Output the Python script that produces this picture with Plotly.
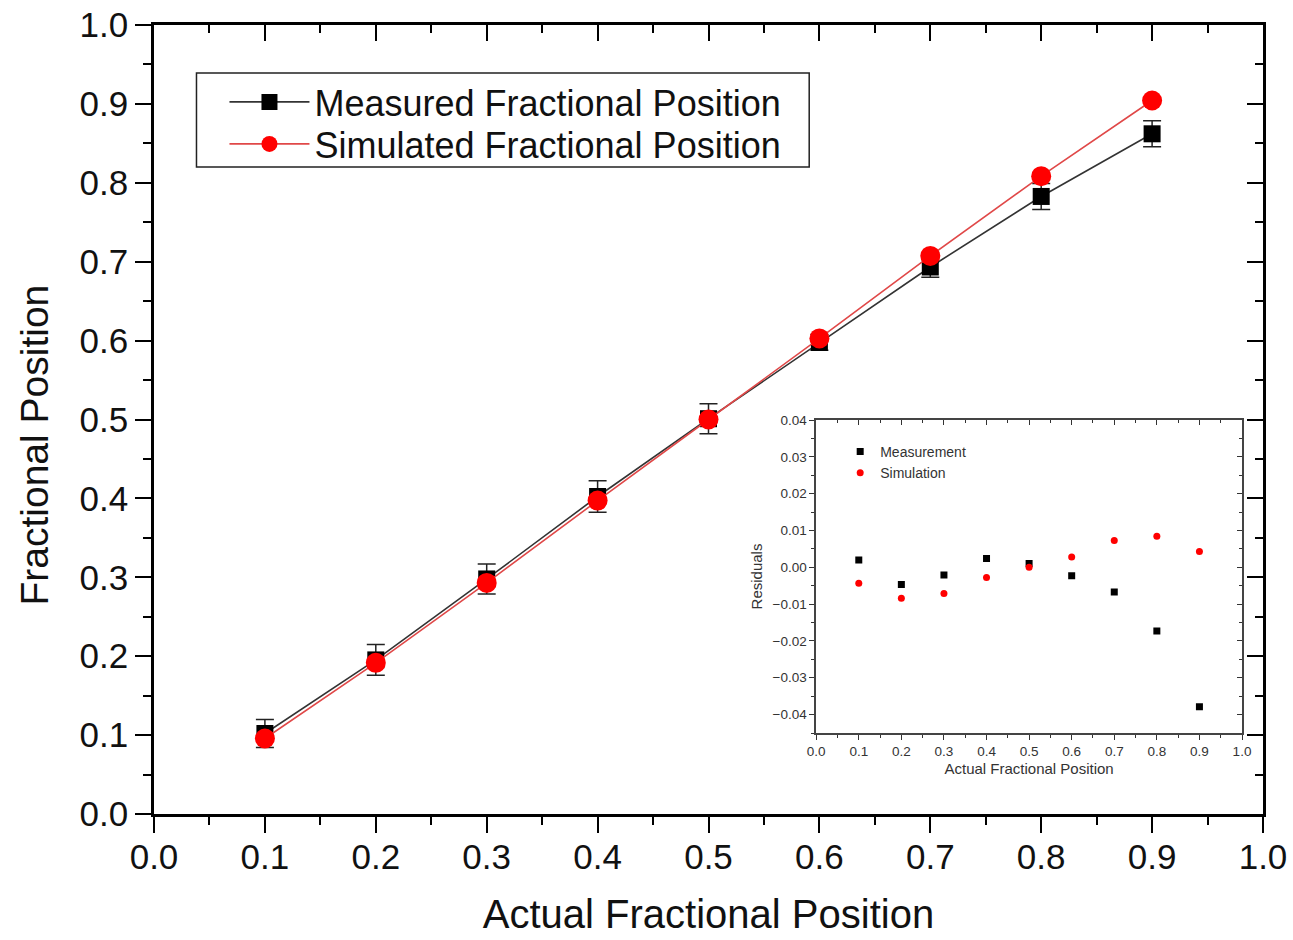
import plotly.graph_objects as go

actual = [0.1, 0.2, 0.3, 0.4, 0.5, 0.6, 0.7, 0.8, 0.9]
measured = [0.102, 0.1953, 0.2979, 0.4024, 0.501, 0.5977, 0.6933, 0.7827, 0.8621]
measured_err = [0.0177, 0.0196, 0.019, 0.020, 0.019, 0.010, 0.013, 0.0165, 0.0165]
simulated = [0.0957, 0.1916, 0.2929, 0.3972, 0.5, 0.6028, 0.7073, 0.8084, 0.9043]
res_measured = [0.0020, -0.0047, -0.0021, 0.0024, 0.0010, -0.0023, -0.0067, -0.0173, -0.0379]
res_simulated = [-0.0043, -0.0084, -0.0071, -0.0028, 0.0, 0.0028, 0.0073, 0.0084, 0.0043]

FONT = "Liberation Sans, Arial, sans-serif"
W, H = 1293, 940
ML, MR, MT, MB = 153.5, 30, 25, 126
PW = W - ML - MR
PH = H - MT - MB

def px_x(p):
    return (p - ML) / PW

def px_y(p):
    return (H - MB - p) / PH

fig = go.Figure()

fig.add_trace(go.Scatter(
    x=actual, y=measured, mode="lines+markers", name="Measured Fractional Position",
    line=dict(color="#333333", width=1.6),
    marker=dict(symbol="square", size=17, color="black"),
    error_y=dict(type="data", array=measured_err, color="#222222", thickness=1.5, width=9),
    xaxis="x", yaxis="y", legend="legend"))
fig.add_trace(go.Scatter(
    x=actual, y=simulated, mode="lines+markers", name="Simulated Fractional Position",
    line=dict(color="#e04848", width=1.6),
    marker=dict(symbol="circle", size=20, color="#ff0000"),
    xaxis="x", yaxis="y", legend="legend3"))

# inset
fig.add_trace(go.Scatter(
    x=actual, y=res_measured, mode="markers", name="Measurement",
    marker=dict(symbol="square", size=7, color="black"),
    xaxis="x2", yaxis="y2", legend="legend2"))
fig.add_trace(go.Scatter(
    x=actual, y=res_simulated, mode="markers", name="Simulation",
    marker=dict(symbol="circle", size=7, color="#ff0000"),
    xaxis="x2", yaxis="y2", legend="legend2"))

# dummy traces for mirrored inward-tick axes
fig.add_trace(go.Scatter(x=[], y=[], xaxis="x3", yaxis="y3", showlegend=False, hoverinfo="skip"))
fig.add_trace(go.Scatter(x=[], y=[], xaxis="x4", yaxis="y4", showlegend=False, hoverinfo="skip"))

main_tick_font = dict(family=FONT, size=35, color="#111111")
main_common = dict(showgrid=False, zeroline=False, showline=True, linecolor="black", linewidth=2.5,
                   automargin=False)
in_common = dict(showgrid=False, zeroline=False, showline=True, linecolor="#444", linewidth=1.5,
                 automargin=False)

in_x_dom = [px_x(816), px_x(1242)]
in_y_dom = [px_y(733), px_y(420)]

leg_font = dict(family=FONT, size=36, color="#111111")

fig.update_layout(
    width=W, height=H,
    margin=dict(l=ML, r=MR, t=MT, b=MB, autoexpand=False),
    paper_bgcolor="white", plot_bgcolor="white",
    font=dict(family=FONT, color="#111111"),
    xaxis=dict(range=[0, 1], tickmode="linear", tick0=0, dtick=0.1, tickformat=".1f",
               ticks="outside", ticklen=16, tickwidth=2, tickcolor="black",
               minor=dict(ticks="outside", ticklen=8, tickwidth=2, tickcolor="black", dtick=0.05),
               tickfont=main_tick_font, ticklabelstandoff=-6,
               title=dict(text="Actual Fractional Position", font=dict(family=FONT, size=40, color="#111111"), standoff=26),
               anchor="y", domain=[0, 1], **main_common),
    yaxis=dict(range=[0, 1], tickmode="linear", tick0=0, dtick=0.1, tickformat=".1f",
               ticks="outside", ticklen=16, tickwidth=2, tickcolor="black",
               minor=dict(ticks="outside", ticklen=8, tickwidth=2, tickcolor="black", dtick=0.05),
               tickfont=main_tick_font,
               anchor="x", domain=[0, 1], **main_common),
    xaxis3=dict(range=[0, 1], overlaying="x", side="top", anchor="y3", tickmode="linear", tick0=0, dtick=0.1,
                ticks="inside", ticklen=16, tickwidth=2, tickcolor="black", showticklabels=False,
                minor=dict(ticks="inside", ticklen=8, tickwidth=2, tickcolor="black", dtick=0.05),
                **main_common),
    yaxis3=dict(range=[0, 1], overlaying="y", side="right", anchor="x3", tickmode="linear", tick0=0, dtick=0.1,
                ticks="inside", ticklen=16, tickwidth=2, tickcolor="black", showticklabels=False,
                minor=dict(ticks="inside", ticklen=8, tickwidth=2, tickcolor="black", dtick=0.05),
                **main_common),
    xaxis2=dict(range=[0, 1], domain=in_x_dom, anchor="y2", tickmode="linear", tick0=0, dtick=0.1, tickformat=".1f",
                ticks="outside", ticklen=5, tickwidth=1.2, tickcolor="#333",
                minor=dict(ticks="outside", ticklen=3, tickwidth=1.2, tickcolor="#333", dtick=0.05),
                tickfont=dict(family=FONT, size=13.5, color="#333"),
                title=dict(text="Actual Fractional Position", font=dict(family=FONT, size=15, color="#333"), standoff=6),
                **in_common),
    yaxis2=dict(range=[-0.045, 0.04], domain=in_y_dom, anchor="x2", tickmode="linear", tick0=0, dtick=0.01, tickformat=".2f",
                ticks="outside", ticklen=5, tickwidth=1.2, tickcolor="#333",
                minor=dict(ticks="outside", ticklen=3, tickwidth=1.2, tickcolor="#333", dtick=0.005),
                tickfont=dict(family=FONT, size=13.5, color="#333"),
                title=dict(text="Residuals", font=dict(family=FONT, size=15, color="#333"), standoff=6),
                **in_common),
    xaxis4=dict(range=[0, 1], domain=in_x_dom, overlaying="x2", side="top", anchor="y4", tickmode="linear", tick0=0, dtick=0.1,
                ticks="inside", ticklen=5, tickwidth=1.2, tickcolor="#333", showticklabels=False,
                minor=dict(ticks="inside", ticklen=3, tickwidth=1.2, tickcolor="#333", dtick=0.05),
                **in_common),
    yaxis4=dict(range=[-0.045, 0.04], domain=in_y_dom, overlaying="y2", side="right", anchor="x4", tickmode="linear", tick0=0, dtick=0.01,
                ticks="inside", ticklen=5, tickwidth=1.2, tickcolor="#333", showticklabels=False,
                minor=dict(ticks="inside", ticklen=3, tickwidth=1.2, tickcolor="#333", dtick=0.005),
                **in_common),
    legend=dict(x=px_x(224), y=px_y(72), xanchor="left", yanchor="top",
                bgcolor="rgba(0,0,0,0)", borderwidth=0, font=leg_font,
                itemwidth=80, tracegroupgap=0, itemsizing="trace"),
    legend3=dict(x=px_x(224), y=px_y(114), xanchor="left", yanchor="top",
                 bgcolor="rgba(0,0,0,0)", borderwidth=0, font=leg_font,
                 itemwidth=80, tracegroupgap=0, itemsizing="trace"),
    legend2=dict(x=px_x(840), y=px_y(436), xanchor="left", yanchor="top",
                 bgcolor="rgba(0,0,0,0)", borderwidth=0,
                 font=dict(family=FONT, size=14, color="#333"), tracegroupgap=0),
    shapes=[
        dict(type="rect", xref="paper", yref="paper", x0=px_x(196), x1=px_x(809), y0=px_y(167), y1=px_y(73),
             line=dict(color="#222", width=1.5), fillcolor="white", layer="below"),
        dict(type="rect", xref="paper", yref="paper", x0=px_x(834), x1=px_x(983), y0=px_y(477), y1=px_y(436),
             line=dict(color="#999", width=1), fillcolor="white", layer="below"),
    ],
    annotations=[
        dict(text="Fractional Position", xref="paper", yref="paper", x=px_x(33), y=px_y(445),
             xanchor="center", yanchor="middle", textangle=-90, showarrow=False,
             font=dict(family=FONT, size=39, color="#111111")),
    ],
    showlegend=True,
)

fig.write_html("out.html")
